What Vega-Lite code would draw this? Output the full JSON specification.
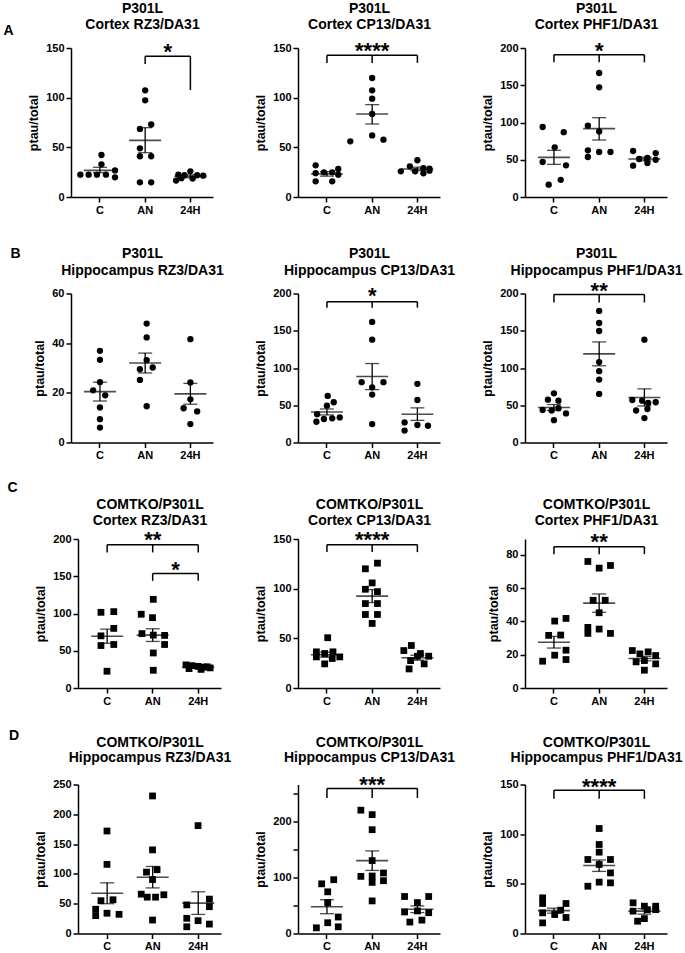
{
"$schema":"https://vega.github.io/schema/vega-lite/v6.json",
"autosize":{"type":"pad"},
"padding":{"left":2,"top":1,"right":2,"bottom":2},
"background":"white",
"config":{
 "font":"Liberation Sans",
 "view":{"stroke":null},
 "mark":{"color":"black"},
 "axis":{"domainColor":"black","domainWidth":1.5,"tickColor":"black","tickWidth":1.5,"tickSize":5,"labelFont":"Liberation Sans","labelFontSize":11,"labelFontWeight":"bold","labelColor":"black","labelPadding":2,"titleFont":"Liberation Sans","titleFontSize":12.5,"titleFontWeight":"bold","titleColor":"black","titlePadding":5,"grid":false},
 "axisTop":{"labels":false,"ticks":false,"domain":false,"titleFontSize":14,"titleLineHeight":16.7,"titlePadding":16,"titleLimit":400}
},
"datasets":{
"pts":[
{"p":"A1","g":"C","v":42.3,"j":0.2},{"p":"A1","g":"C","v":32.9,"j":0.2},{"p":"A1","g":"C","v":22.5,"j":-2.6},{"p":"A1","g":"C","v":22.5,"j":-1.5},{"p":"A1","g":"C","v":22.5,"j":-0.4},{"p":"A1","g":"C","v":22.5,"j":0.8},{"p":"A1","g":"C","v":26.8,"j":2},{"p":"A1","g":"C","v":19.8,"j":2},
{"p":"A1","g":"AN","v":107.4,"j":0},{"p":"A1","g":"AN","v":97.3,"j":0},{"p":"A1","g":"AN","v":73,"j":0.8},{"p":"A1","g":"AN","v":68.5,"j":-0.7},{"p":"A1","g":"AN","v":49,"j":-0.7},{"p":"A1","g":"AN","v":41,"j":-0.7},{"p":"A1","g":"AN","v":41,"j":0.8},{"p":"A1","g":"AN","v":14.8,"j":-0.7},{"p":"A1","g":"AN","v":14.8,"j":0.8},
{"p":"A1","g":"24H","v":25.8,"j":0},{"p":"A1","g":"24H","v":22.5,"j":-1.6},{"p":"A1","g":"24H","v":22,"j":-0.8},{"p":"A1","g":"24H","v":22,"j":0.9},{"p":"A1","g":"24H","v":21.5,"j":1.7},{"p":"A1","g":"24H","v":19,"j":-1.2},{"p":"A1","g":"24H","v":18.5,"j":0.3},{"p":"A1","g":"24H","v":16.5,"j":-1.9},
{"p":"A2","g":"C","v":31.9,"j":-1.5},{"p":"A2","g":"C","v":24,"j":-1.5},{"p":"A2","g":"C","v":15.8,"j":-1.5},{"p":"A2","g":"C","v":24.8,"j":-0.4},{"p":"A2","g":"C","v":24.8,"j":0.7},{"p":"A2","g":"C","v":15.8,"j":0.7},{"p":"A2","g":"C","v":28.2,"j":1.5},{"p":"A2","g":"C","v":22.5,"j":1.5},
{"p":"A2","g":"AN","v":119.8,"j":0},{"p":"A2","g":"AN","v":107.4,"j":0},{"p":"A2","g":"AN","v":99,"j":0},{"p":"A2","g":"AN","v":83.6,"j":0},{"p":"A2","g":"AN","v":62,"j":0},{"p":"A2","g":"AN","v":56,"j":-2.9},{"p":"A2","g":"AN","v":57.7,"j":1.5},
{"p":"A2","g":"24H","v":37,"j":0},{"p":"A2","g":"24H","v":30.9,"j":-1},{"p":"A2","g":"24H","v":25.8,"j":-2.2},{"p":"A2","g":"24H","v":25.8,"j":-0.3},{"p":"A2","g":"24H","v":29,"j":0.8},{"p":"A2","g":"24H","v":28.5,"j":1.6},{"p":"A2","g":"24H","v":23.8,"j":0.8},{"p":"A2","g":"24H","v":26.5,"j":1.6},
{"p":"A3","g":"C","v":94,"j":-1.5},{"p":"A3","g":"C","v":87,"j":1.3},{"p":"A3","g":"C","v":66.7,"j":0.1},{"p":"A3","g":"C","v":47,"j":-1.5},{"p":"A3","g":"C","v":42.5,"j":1.6},{"p":"A3","g":"C","v":23,"j":0.9},{"p":"A3","g":"C","v":16.5,"j":-0.7},
{"p":"A3","g":"AN","v":166.4,"j":0},{"p":"A3","g":"AN","v":147.2,"j":0},{"p":"A3","g":"AN","v":95.7,"j":-1.5},{"p":"A3","g":"AN","v":88,"j":0},{"p":"A3","g":"AN","v":62.6,"j":-1.5},{"p":"A3","g":"AN","v":53.7,"j":-1.5},{"p":"A3","g":"AN","v":60.4,"j":0},{"p":"A3","g":"AN","v":60.4,"j":1.5},
{"p":"A3","g":"24H","v":61.7,"j":-1.5},{"p":"A3","g":"24H","v":42,"j":-1.5},{"p":"A3","g":"24H","v":51,"j":-0.7},{"p":"A3","g":"24H","v":52.3,"j":0.4},{"p":"A3","g":"24H","v":45.6,"j":0.4},{"p":"A3","g":"24H","v":59,"j":1.5},{"p":"A3","g":"24H","v":50,"j":1.5},
{"p":"B1","g":"C","v":36.9,"j":0},{"p":"B1","g":"C","v":33.3,"j":0},{"p":"B1","g":"C","v":24.3,"j":0},{"p":"B1","g":"C","v":21,"j":-0.9},{"p":"B1","g":"C","v":19,"j":0.7},{"p":"B1","g":"C","v":14.1,"j":0},{"p":"B1","g":"C","v":9.4,"j":0},{"p":"B1","g":"C","v":6,"j":0},
{"p":"B1","g":"AN","v":47.9,"j":0.2},{"p":"B1","g":"AN","v":42.3,"j":0.2},{"p":"B1","g":"AN","v":33.2,"j":0.2},{"p":"B1","g":"AN","v":30.2,"j":1},{"p":"B1","g":"AN","v":29.5,"j":-0.7},{"p":"B1","g":"AN","v":25.2,"j":-0.7},{"p":"B1","g":"AN","v":14.6,"j":0.2},
{"p":"B1","g":"24H","v":41.6,"j":0},{"p":"B1","g":"24H","v":24.2,"j":0},{"p":"B1","g":"24H","v":17.4,"j":0},{"p":"B1","g":"24H","v":13.8,"j":-0.9},{"p":"B1","g":"24H","v":12.5,"j":0.9},{"p":"B1","g":"24H","v":7.4,"j":0},
{"p":"B2","g":"C","v":62.5,"j":0.1},{"p":"B2","g":"C","v":54,"j":0.9},{"p":"B2","g":"C","v":49.4,"j":0},{"p":"B2","g":"C","v":38,"j":-1.3},{"p":"B2","g":"C","v":33.7,"j":1.7},{"p":"B2","g":"C","v":32.4,"j":0.7},{"p":"B2","g":"C","v":31.5,"j":-0.4},{"p":"B2","g":"C","v":27.9,"j":-1.4},
{"p":"B2","g":"AN","v":161.8,"j":0},{"p":"B2","g":"AN","v":138,"j":0},{"p":"B2","g":"AN","v":81,"j":-1.4},{"p":"B2","g":"AN","v":81,"j":1.5},{"p":"B2","g":"AN","v":74,"j":0},{"p":"B2","g":"AN","v":64.3,"j":0},{"p":"B2","g":"AN","v":24.7,"j":0},
{"p":"B2","g":"24H","v":78.7,"j":0},{"p":"B2","g":"24H","v":57,"j":0},{"p":"B2","g":"24H","v":27,"j":-1.7},{"p":"B2","g":"24H","v":23.5,"j":0},{"p":"B2","g":"24H","v":22.5,"j":1.4},{"p":"B2","g":"24H","v":16,"j":-1.7},
{"p":"B3","g":"C","v":66,"j":0},{"p":"B3","g":"C","v":57.5,"j":-0.8},{"p":"B3","g":"C","v":56.2,"j":0.6},{"p":"B3","g":"C","v":46,"j":0.6},{"p":"B3","g":"C","v":43.6,"j":-1.5},{"p":"B3","g":"C","v":43,"j":-0.3},{"p":"B3","g":"C","v":39,"j":1.6},{"p":"B3","g":"C","v":30,"j":0},
{"p":"B3","g":"AN","v":176.6,"j":0},{"p":"B3","g":"AN","v":160.4,"j":0},{"p":"B3","g":"AN","v":149.7,"j":0},{"p":"B3","g":"AN","v":107.9,"j":0},{"p":"B3","g":"AN","v":95.7,"j":0},{"p":"B3","g":"AN","v":84.5,"j":0},{"p":"B3","g":"AN","v":65.2,"j":0},
{"p":"B3","g":"24H","v":138,"j":0},{"p":"B3","g":"24H","v":57,"j":-1.6},{"p":"B3","g":"24H","v":56.2,"j":-0.3},{"p":"B3","g":"24H","v":54,"j":1.5},{"p":"B3","g":"24H","v":53,"j":0.5},{"p":"B3","g":"24H","v":45,"j":0.4},{"p":"B3","g":"24H","v":43,"j":-1.1},{"p":"B3","g":"24H","v":32.8,"j":0},
{"p":"C1","g":"C","v":101.6,"j":-0.8},{"p":"C1","g":"C","v":102.5,"j":0.9},{"p":"C1","g":"C","v":80,"j":0.9},{"p":"C1","g":"C","v":70,"j":-0.8},{"p":"C1","g":"C","v":58.4,"j":0.9},{"p":"C1","g":"C","v":57,"j":-0.8},{"p":"C1","g":"C","v":22.5,"j":0},
{"p":"C1","g":"AN","v":119,"j":0.1},{"p":"C1","g":"AN","v":99,"j":-1.5},{"p":"C1","g":"AN","v":94.4,"j":0},{"p":"C1","g":"AN","v":73,"j":-1.4},{"p":"C1","g":"AN","v":71,"j":0.1},{"p":"C1","g":"AN","v":70.6,"j":1.6},{"p":"C1","g":"AN","v":58.4,"j":1.6},{"p":"C1","g":"AN","v":47,"j":0.1},{"p":"C1","g":"AN","v":23.8,"j":0.1},
{"p":"C1","g":"24H","v":31,"j":-1.6},{"p":"C1","g":"24H","v":30,"j":-0.8},{"p":"C1","g":"24H","v":29,"j":0},{"p":"C1","g":"24H","v":28,"j":0.8},{"p":"C1","g":"24H","v":27,"j":1.6},{"p":"C1","g":"24H","v":26,"j":-1.2},{"p":"C1","g":"24H","v":25,"j":0.4},{"p":"C1","g":"24H","v":28.5,"j":1.2},
{"p":"C2","g":"C","v":50.6,"j":0.1},{"p":"C2","g":"C","v":36.4,"j":-1.4},{"p":"C2","g":"C","v":34.7,"j":-0.3},{"p":"C2","g":"C","v":36.4,"j":0.8},{"p":"C2","g":"C","v":31.3,"j":-1.4},{"p":"C2","g":"C","v":24.3,"j":-0.3},{"p":"C2","g":"C","v":29.7,"j":0.7},{"p":"C2","g":"C","v":31.3,"j":1.7},
{"p":"C2","g":"AN","v":125.7,"j":0.7},{"p":"C2","g":"AN","v":120,"j":-0.9},{"p":"C2","g":"AN","v":105.8,"j":0},{"p":"C2","g":"AN","v":99.4,"j":-0.9},{"p":"C2","g":"AN","v":97,"j":0.7},{"p":"C2","g":"AN","v":85,"j":-0.9},{"p":"C2","g":"AN","v":85,"j":0.7},{"p":"C2","g":"AN","v":74,"j":-0.9},{"p":"C2","g":"AN","v":74,"j":0.7},{"p":"C2","g":"AN","v":65,"j":0},
{"p":"C2","g":"24H","v":42.8,"j":-0.8},{"p":"C2","g":"24H","v":37.7,"j":-1.8},{"p":"C2","g":"24H","v":34.7,"j":0.4},{"p":"C2","g":"24H","v":32,"j":0},{"p":"C2","g":"24H","v":32,"j":1.5},{"p":"C2","g":"24H","v":27.6,"j":-0.9},{"p":"C2","g":"24H","v":24.3,"j":0.9},{"p":"C2","g":"24H","v":19.2,"j":-1.1},
{"p":"C3","g":"C","v":40.2,"j":0.1},{"p":"C3","g":"C","v":41.8,"j":1.6},{"p":"C3","g":"C","v":31.6,"j":-0.7},{"p":"C3","g":"C","v":31.8,"j":0.9},{"p":"C3","g":"C","v":22.7,"j":1.6},{"p":"C3","g":"C","v":19.7,"j":0.1},{"p":"C3","g":"C","v":16.1,"j":-1.5},{"p":"C3","g":"C","v":17.1,"j":1.6},
{"p":"C3","g":"AN","v":76,"j":-1.5},{"p":"C3","g":"AN","v":72,"j":0},{"p":"C3","g":"AN","v":73.6,"j":1.5},{"p":"C3","g":"AN","v":52.7,"j":-0.8},{"p":"C3","g":"AN","v":52.7,"j":0.8},{"p":"C3","g":"AN","v":45.2,"j":0},{"p":"C3","g":"AN","v":36.4,"j":-1.5},{"p":"C3","g":"AN","v":32.8,"j":-1.5},{"p":"C3","g":"AN","v":35.4,"j":0},{"p":"C3","g":"AN","v":32.8,"j":1.5},
{"p":"C3","g":"24H","v":22.5,"j":-1.6},{"p":"C3","g":"24H","v":20.5,"j":-0.6},{"p":"C3","g":"24H","v":21.7,"j":0.5},{"p":"C3","g":"24H","v":19.5,"j":1.5},{"p":"C3","g":"24H","v":15.7,"j":-1.1},{"p":"C3","g":"24H","v":16.5,"j":0},{"p":"C3","g":"24H","v":14.5,"j":1.5},{"p":"C3","g":"24H","v":10.7,"j":0},
{"p":"D1","g":"C","v":172,"j":0},{"p":"D1","g":"C","v":116,"j":0},{"p":"D1","g":"C","v":55,"j":-0.8},{"p":"D1","g":"C","v":56.6,"j":0.8},{"p":"D1","g":"C","v":40.7,"j":-1.5},{"p":"D1","g":"C","v":30,"j":-1.5},{"p":"D1","g":"C","v":34,"j":0},{"p":"D1","g":"C","v":32.2,"j":1.6},
{"p":"D1","g":"AN","v":230.8,"j":0},{"p":"D1","g":"AN","v":140.3,"j":0},{"p":"D1","g":"AN","v":103,"j":-0.8},{"p":"D1","g":"AN","v":107,"j":0.6},{"p":"D1","g":"AN","v":90.5,"j":0},{"p":"D1","g":"AN","v":66,"j":-1.5},{"p":"D1","g":"AN","v":61,"j":-0.7},{"p":"D1","g":"AN","v":61,"j":0.4},{"p":"D1","g":"AN","v":65,"j":1.5},{"p":"D1","g":"AN","v":22.6,"j":0},
{"p":"D1","g":"24H","v":181,"j":0},{"p":"D1","g":"24H","v":48,"j":-1.5},{"p":"D1","g":"24H","v":57.7,"j":1.5},{"p":"D1","g":"24H","v":45,"j":1.5},{"p":"D1","g":"24H","v":25.5,"j":-1.5},{"p":"D1","g":"24H","v":21.5,"j":0},{"p":"D1","g":"24H","v":11.3,"j":-1.5},{"p":"D1","g":"24H","v":15.8,"j":1.5},
{"p":"D2","g":"C","v":89,"j":-0.7},{"p":"D2","g":"C","v":96.4,"j":0.9},{"p":"D2","g":"C","v":74.7,"j":0.1},{"p":"D2","g":"C","v":55.4,"j":0.1},{"p":"D2","g":"C","v":29.5,"j":1.5},{"p":"D2","g":"C","v":19.3,"j":0.1},{"p":"D2","g":"C","v":10.2,"j":-1.4},{"p":"D2","g":"C","v":12,"j":1.5},
{"p":"D2","g":"AN","v":221,"j":-1.5},{"p":"D2","g":"AN","v":213,"j":0},{"p":"D2","g":"AN","v":186,"j":0},{"p":"D2","g":"AN","v":130.7,"j":0},{"p":"D2","g":"AN","v":108.4,"j":1.5},{"p":"D2","g":"AN","v":102.4,"j":-1.5},{"p":"D2","g":"AN","v":103,"j":0},{"p":"D2","g":"AN","v":94.6,"j":1.5},{"p":"D2","g":"AN","v":91.6,"j":0},{"p":"D2","g":"AN","v":58.4,"j":0},
{"p":"D2","g":"24H","v":66.3,"j":-1.7},{"p":"D2","g":"24H","v":66.3,"j":1.5},{"p":"D2","g":"24H","v":55.4,"j":0},{"p":"D2","g":"24H","v":38.6,"j":-1.7},{"p":"D2","g":"24H","v":40.4,"j":0},{"p":"D2","g":"24H","v":37.3,"j":1.5},{"p":"D2","g":"24H","v":20.5,"j":-1},{"p":"D2","g":"24H","v":24,"j":0.6},
{"p":"D3","g":"C","v":35.9,"j":-1.5},{"p":"D3","g":"C","v":30.2,"j":-1.5},{"p":"D3","g":"C","v":30.2,"j":1.6},{"p":"D3","g":"C","v":23.5,"j":0.9},{"p":"D3","g":"C","v":20.8,"j":-1.5},{"p":"D3","g":"C","v":19.1,"j":0.1},{"p":"D3","g":"C","v":16.1,"j":1.6},{"p":"D3","g":"C","v":10.7,"j":-1.5},
{"p":"D3","g":"AN","v":105.7,"j":0},{"p":"D3","g":"AN","v":89.6,"j":0},{"p":"D3","g":"AN","v":81.9,"j":0},{"p":"D3","g":"AN","v":74.5,"j":-1.5},{"p":"D3","g":"AN","v":74.5,"j":1.5},{"p":"D3","g":"AN","v":69.5,"j":0},{"p":"D3","g":"AN","v":61,"j":1.5},{"p":"D3","g":"AN","v":47.6,"j":-1.5},{"p":"D3","g":"AN","v":51.7,"j":0},{"p":"D3","g":"AN","v":51,"j":1.5},
{"p":"D3","g":"24H","v":30.9,"j":-1.5},{"p":"D3","g":"24H","v":27.5,"j":0},{"p":"D3","g":"24H","v":27.5,"j":1.5},{"p":"D3","g":"24H","v":24,"j":0.4},{"p":"D3","g":"24H","v":24,"j":1.5},{"p":"D3","g":"24H","v":22.5,"j":-1.5},{"p":"D3","g":"24H","v":15,"j":0},{"p":"D3","g":"24H","v":12.4,"j":-0.9}
],
"st":[
{"p":"A1","g":"C","m":26.8,"lo":24.4,"hi":29.9},{"p":"A1","g":"AN","m":57,"lo":44.6,"hi":69.8},{"p":"A1","g":"24H","m":20.8,"lo":19.4,"hi":22.3},
{"p":"A2","g":"C","m":23.2,"lo":21,"hi":25.5},{"p":"A2","g":"AN","m":83.6,"lo":73.5,"hi":93},{"p":"A2","g":"24H","m":28.2,"lo":26.6,"hi":30},
{"p":"A3","g":"C","m":53.2,"lo":43.8,"hi":62.6},{"p":"A3","g":"AN","m":91.8,"lo":76.5,"hi":106.5},{"p":"A3","g":"24H","m":51,"lo":48.5,"hi":53.5},
{"p":"B1","g":"C","m":20.5,"lo":16.7,"hi":24.3},{"p":"B1","g":"AN","m":32,"lo":28,"hi":36},{"p":"B1","g":"24H","m":19.6,"lo":15.4,"hi":23.8},
{"p":"B2","g":"C","m":41,"lo":37,"hi":45},{"p":"B2","g":"AN","m":88.5,"lo":71,"hi":106},{"p":"B2","g":"24H","m":38,"lo":29.7,"hi":46.5},
{"p":"B3","g":"C","m":47,"lo":43,"hi":51},{"p":"B3","g":"AN","m":119,"lo":103,"hi":135},{"p":"B3","g":"24H","m":60.5,"lo":49,"hi":72},
{"p":"C1","g":"C","m":69.5,"lo":60,"hi":79},{"p":"C1","g":"AN","m":71,"lo":62.5,"hi":79.5},{"p":"C1","g":"24H","m":28,"lo":26.5,"hi":29.5},
{"p":"C2","g":"C","m":33.5,"lo":31,"hi":36},{"p":"C2","g":"AN","m":92.5,"lo":86,"hi":99},{"p":"C2","g":"24H","m":30.5,"lo":28,"hi":33},
{"p":"C3","g":"C","m":27.5,"lo":24,"hi":31},{"p":"C3","g":"AN","m":51,"lo":45.5,"hi":56.5},{"p":"C3","g":"24H","m":17.7,"lo":16.3,"hi":19},
{"p":"D1","g":"C","m":67.5,"lo":50,"hi":85},{"p":"D1","g":"AN","m":94.5,"lo":76.5,"hi":112.5},{"p":"D1","g":"24H","m":51,"lo":32,"hi":70},
{"p":"D2","g":"C","m":48,"lo":35.5,"hi":60.5},{"p":"D2","g":"AN","m":130.5,"lo":113,"hi":148},{"p":"D2","g":"24H","m":43.5,"lo":37.5,"hi":49.5},
{"p":"D3","g":"C","m":23,"lo":20.5,"hi":25.5},{"p":"D3","g":"AN","m":68.5,"lo":62.5,"hi":74},{"p":"D3","g":"24H","m":22.5,"lo":19.5,"hi":25}
],
"br":[
{"p":"A1","a":"AN","b":"24H","y":141.6},{"p":"A2","a":"C","b":"24H","y":142.6},{"p":"A3","a":"C","b":"24H","y":191},
{"p":"B2","a":"C","b":"24H","y":188.8},{"p":"B3","a":"C","b":"24H","y":198.7},
{"p":"C1","a":"C","b":"24H","y":192.4},{"p":"C1","a":"AN","b":"24H","y":153.7},{"p":"C2","a":"C","b":"24H","y":144.3},{"p":"C3","a":"C","b":"24H","y":84.8},
{"p":"D2","a":"C","b":"24H","y":260},{"p":"D3","a":"C","b":"24H","y":144.3}
],
"lg":[
{"p":"A1","g":"AN","y1":134,"y2":141.6},{"p":"A1","g":"24H","y1":107.7,"y2":141.6},
{"p":"A2","g":"C","y1":135,"y2":142.6},{"p":"A2","g":"AN","y1":135,"y2":142.6},{"p":"A2","g":"24H","y1":135,"y2":142.6},
{"p":"A3","g":"C","y1":180.8,"y2":191},{"p":"A3","g":"AN","y1":180.8,"y2":191},{"p":"A3","g":"24H","y1":180.8,"y2":191},
{"p":"B2","g":"C","y1":181,"y2":188.8},{"p":"B2","g":"AN","y1":181,"y2":188.8},{"p":"B2","g":"24H","y1":181,"y2":188.8},
{"p":"B3","g":"C","y1":188,"y2":198.7},{"p":"B3","g":"AN","y1":188,"y2":198.7},{"p":"B3","g":"24H","y1":188,"y2":198.7},
{"p":"C1","g":"C","y1":182,"y2":192.4},{"p":"C1","g":"AN","y1":182,"y2":192.4},{"p":"C1","g":"24H","y1":182,"y2":192.4},{"p":"C1","g":"AN","y1":143.8,"y2":153.7},{"p":"C1","g":"24H","y1":143.8,"y2":153.7},
{"p":"C2","g":"C","y1":136.8,"y2":144.3},{"p":"C2","g":"AN","y1":136.8,"y2":144.3},{"p":"C2","g":"24H","y1":136.8,"y2":144.3},
{"p":"C3","g":"C","y1":80.4,"y2":84.8},{"p":"C3","g":"AN","y1":80.4,"y2":84.8},{"p":"C3","g":"24H","y1":80.4,"y2":84.8},
{"p":"D2","g":"C","y1":243,"y2":260},{"p":"D2","g":"AN","y1":243,"y2":260},{"p":"D2","g":"24H","y1":243,"y2":260},
{"p":"D3","g":"C","y1":135.6,"y2":144.3},{"p":"D3","g":"AN","y1":135.6,"y2":144.3},{"p":"D3","g":"24H","y1":135.6,"y2":144.3}
],
"lb":[
{"p":"A2","g":"AN","y":153,"t":"****"},{"p":"A3","g":"AN","y":204,"t":"*"},{"p":"B2","g":"AN","y":204.5,"t":"*"},{"p":"B3","g":"AN","y":211,"t":"**"},
{"p":"C1","g":"AN","y":206.7,"t":"**"},{"p":"C2","g":"AN","y":155,"t":"****"},{"p":"C3","g":"AN","y":91.5,"t":"**"},{"p":"D2","g":"AN","y":276.5,"t":"***"},{"p":"D3","g":"AN","y":153.4,"t":"****"}
],
"lbg":[
{"p":"A1","g":"24H","y":151.7,"t":"*"},{"p":"C1","g":"24H","y":167,"t":"*"}
]
},
"columns":3,
"spacing":{"row":96.5,"column":85},
"bounds":"flush",
"concat":[
{"width":142,"height":149,"layer":[
 {"data":{"name":"pts"},"transform":[{"filter":"datum.p==='A1'"}],"mark":{"type":"point","shape":"circle","filled":true,"opacity":1,"size":40},"encoding":{"x":{"field":"g","type":"nominal","scale":{"domain":["C","AN","24H"],"paddingInner":0,"paddingOuter":0.07,"align":1},"axis":{"title":null,"labelAngle":0}},"xOffset":{"field":"j","type":"quantitative","scale":{"domain":[-3,3]}},"y":{"field":"v","type":"quantitative","scale":{"domain":[0,150],"nice":false},"axis":{"title":"ptau/total","values":[0,50,100,150]}}}},
 {"data":{"name":"st"},"transform":[{"filter":"datum.p==='A1'"}],"mark":{"type":"tick","size":32,"thickness":1.6},"encoding":{"x":{"field":"g","type":"nominal","axis":{"orient":"top","title":["P301L","Cortex RZ3/DA31"]}},"y":{"field":"m","type":"quantitative","axis":{"orient":"left","title":"A","titleAngle":0,"titleX":-63,"titleY":-14,"titleAlign":"center","titleBaseline":"alphabetic","titleFontSize":14,"labels":false,"ticks":false,"domain":false}}}},
 {"data":{"name":"st"},"transform":[{"filter":"datum.p==='A1'"}],"mark":{"type":"rule","strokeWidth":1.3},"encoding":{"x":{"field":"g","type":"nominal","axis":null},"y":{"field":"lo","type":"quantitative","axis":null},"y2":{"field":"hi"}}},
 {"data":{"name":"st"},"transform":[{"filter":"datum.p==='A1'"}],"mark":{"type":"tick","size":14,"thickness":1.3},"encoding":{"x":{"field":"g","type":"nominal","axis":null},"y":{"field":"lo","type":"quantitative","axis":null}}},
 {"data":{"name":"st"},"transform":[{"filter":"datum.p==='A1'"}],"mark":{"type":"tick","size":14,"thickness":1.3},"encoding":{"x":{"field":"g","type":"nominal","axis":null},"y":{"field":"hi","type":"quantitative","axis":null}}},
 {"data":{"name":"br"},"transform":[{"filter":"datum.p==='A1'"}],"mark":{"type":"rule","strokeWidth":1.5},"encoding":{"x":{"field":"a","type":"nominal","axis":null},"x2":{"field":"b"},"y":{"field":"y","type":"quantitative","axis":null}}},
 {"data":{"name":"lg"},"transform":[{"filter":"datum.p==='A1'"}],"mark":{"type":"rule","strokeWidth":1.5},"encoding":{"x":{"field":"g","type":"nominal","axis":null},"y":{"field":"y1","type":"quantitative","axis":null},"y2":{"field":"y2"}}},
 {"data":{"name":"lbg"},"transform":[{"filter":"datum.p==='A1'"}],"mark":{"type":"text","fontSize":22,"fontWeight":"bold","dy":6},"encoding":{"x":{"field":"g","type":"nominal","bandPosition":0,"axis":null},"y":{"field":"y","type":"quantitative","axis":null},"text":{"field":"t"}}}
],"resolve":{"axis":{"x":"independent","y":"independent"}}},
{"width":142,"height":149,"layer":[
 {"data":{"name":"pts"},"transform":[{"filter":"datum.p==='A2'"}],"mark":{"type":"point","shape":"circle","filled":true,"opacity":1,"size":40},"encoding":{"x":{"field":"g","type":"nominal","scale":{"domain":["C","AN","24H"],"paddingInner":0,"paddingOuter":0.07,"align":1},"axis":{"title":null,"labelAngle":0}},"xOffset":{"field":"j","type":"quantitative","scale":{"domain":[-3,3]}},"y":{"field":"v","type":"quantitative","scale":{"domain":[0,150],"nice":false},"axis":{"title":"ptau/total","values":[0,50,100,150]}}}},
 {"data":{"name":"st"},"transform":[{"filter":"datum.p==='A2'"}],"mark":{"type":"tick","size":32,"thickness":1.6},"encoding":{"x":{"field":"g","type":"nominal","axis":{"orient":"top","title":["P301L","Cortex CP13/DA31"]}},"y":{"field":"m","type":"quantitative","axis":null}}},
 {"data":{"name":"st"},"transform":[{"filter":"datum.p==='A2'"}],"mark":{"type":"rule","strokeWidth":1.3},"encoding":{"x":{"field":"g","type":"nominal","axis":null},"y":{"field":"lo","type":"quantitative","axis":null},"y2":{"field":"hi"}}},
 {"data":{"name":"st"},"transform":[{"filter":"datum.p==='A2'"}],"mark":{"type":"tick","size":14,"thickness":1.3},"encoding":{"x":{"field":"g","type":"nominal","axis":null},"y":{"field":"lo","type":"quantitative","axis":null}}},
 {"data":{"name":"st"},"transform":[{"filter":"datum.p==='A2'"}],"mark":{"type":"tick","size":14,"thickness":1.3},"encoding":{"x":{"field":"g","type":"nominal","axis":null},"y":{"field":"hi","type":"quantitative","axis":null}}},
 {"data":{"name":"br"},"transform":[{"filter":"datum.p==='A2'"}],"mark":{"type":"rule","strokeWidth":1.5},"encoding":{"x":{"field":"a","type":"nominal","axis":null},"x2":{"field":"b"},"y":{"field":"y","type":"quantitative","axis":null}}},
 {"data":{"name":"lg"},"transform":[{"filter":"datum.p==='A2'"}],"mark":{"type":"rule","strokeWidth":1.5},"encoding":{"x":{"field":"g","type":"nominal","axis":null},"y":{"field":"y1","type":"quantitative","axis":null},"y2":{"field":"y2"}}},
 {"data":{"name":"lb"},"transform":[{"filter":"datum.p==='A2'"}],"mark":{"type":"text","fontSize":22,"fontWeight":"bold","dy":6},"encoding":{"x":{"field":"g","type":"nominal","axis":null},"y":{"field":"y","type":"quantitative","axis":null},"text":{"field":"t"}}}
],"resolve":{"axis":{"x":"independent","y":"independent"}}},
{"width":142,"height":149,"layer":[
 {"data":{"name":"pts"},"transform":[{"filter":"datum.p==='A3'"}],"mark":{"type":"point","shape":"circle","filled":true,"opacity":1,"size":40},"encoding":{"x":{"field":"g","type":"nominal","scale":{"domain":["C","AN","24H"],"paddingInner":0,"paddingOuter":0.07,"align":1},"axis":{"title":null,"labelAngle":0}},"xOffset":{"field":"j","type":"quantitative","scale":{"domain":[-3,3]}},"y":{"field":"v","type":"quantitative","scale":{"domain":[0,200],"nice":false},"axis":{"title":"ptau/total","values":[0,50,100,150,200]}}}},
 {"data":{"name":"st"},"transform":[{"filter":"datum.p==='A3'"}],"mark":{"type":"tick","size":32,"thickness":1.6},"encoding":{"x":{"field":"g","type":"nominal","axis":{"orient":"top","title":["P301L","Cortex PHF1/DA31"]}},"y":{"field":"m","type":"quantitative","axis":null}}},
 {"data":{"name":"st"},"transform":[{"filter":"datum.p==='A3'"}],"mark":{"type":"rule","strokeWidth":1.3},"encoding":{"x":{"field":"g","type":"nominal","axis":null},"y":{"field":"lo","type":"quantitative","axis":null},"y2":{"field":"hi"}}},
 {"data":{"name":"st"},"transform":[{"filter":"datum.p==='A3'"}],"mark":{"type":"tick","size":14,"thickness":1.3},"encoding":{"x":{"field":"g","type":"nominal","axis":null},"y":{"field":"lo","type":"quantitative","axis":null}}},
 {"data":{"name":"st"},"transform":[{"filter":"datum.p==='A3'"}],"mark":{"type":"tick","size":14,"thickness":1.3},"encoding":{"x":{"field":"g","type":"nominal","axis":null},"y":{"field":"hi","type":"quantitative","axis":null}}},
 {"data":{"name":"br"},"transform":[{"filter":"datum.p==='A3'"}],"mark":{"type":"rule","strokeWidth":1.5},"encoding":{"x":{"field":"a","type":"nominal","axis":null},"x2":{"field":"b"},"y":{"field":"y","type":"quantitative","axis":null}}},
 {"data":{"name":"lg"},"transform":[{"filter":"datum.p==='A3'"}],"mark":{"type":"rule","strokeWidth":1.5},"encoding":{"x":{"field":"g","type":"nominal","axis":null},"y":{"field":"y1","type":"quantitative","axis":null},"y2":{"field":"y2"}}},
 {"data":{"name":"lb"},"transform":[{"filter":"datum.p==='A3'"}],"mark":{"type":"text","fontSize":22,"fontWeight":"bold","dy":6},"encoding":{"x":{"field":"g","type":"nominal","axis":null},"y":{"field":"y","type":"quantitative","axis":null},"text":{"field":"t"}}}
],"resolve":{"axis":{"x":"independent","y":"independent"}}},
{"width":142,"height":149,"layer":[
 {"data":{"name":"pts"},"transform":[{"filter":"datum.p==='B1'"}],"mark":{"type":"point","shape":"circle","filled":true,"opacity":1,"size":40},"encoding":{"x":{"field":"g","type":"nominal","scale":{"domain":["C","AN","24H"],"paddingInner":0,"paddingOuter":0.07,"align":1},"axis":{"title":null,"labelAngle":0}},"xOffset":{"field":"j","type":"quantitative","scale":{"domain":[-3,3]}},"y":{"field":"v","type":"quantitative","scale":{"domain":[0,60],"nice":false},"axis":{"title":"ptau/total","values":[0,20,40,60]}}}},
 {"data":{"name":"st"},"transform":[{"filter":"datum.p==='B1'"}],"mark":{"type":"tick","size":32,"thickness":1.6},"encoding":{"x":{"field":"g","type":"nominal","axis":{"orient":"top","title":["P301L","Hippocampus RZ3/DA31"],"titleLineHeight":17.5}},"y":{"field":"m","type":"quantitative","axis":{"orient":"left","title":"B","titleAngle":0,"titleX":-56,"titleY":-36,"titleAlign":"center","titleBaseline":"alphabetic","titleFontSize":14,"labels":false,"ticks":false,"domain":false}}}},
 {"data":{"name":"st"},"transform":[{"filter":"datum.p==='B1'"}],"mark":{"type":"rule","strokeWidth":1.3},"encoding":{"x":{"field":"g","type":"nominal","axis":null},"y":{"field":"lo","type":"quantitative","axis":null},"y2":{"field":"hi"}}},
 {"data":{"name":"st"},"transform":[{"filter":"datum.p==='B1'"}],"mark":{"type":"tick","size":14,"thickness":1.3},"encoding":{"x":{"field":"g","type":"nominal","axis":null},"y":{"field":"lo","type":"quantitative","axis":null}}},
 {"data":{"name":"st"},"transform":[{"filter":"datum.p==='B1'"}],"mark":{"type":"tick","size":14,"thickness":1.3},"encoding":{"x":{"field":"g","type":"nominal","axis":null},"y":{"field":"hi","type":"quantitative","axis":null}}}
],"resolve":{"axis":{"x":"independent","y":"independent"}}},
{"width":142,"height":149,"layer":[
 {"data":{"name":"pts"},"transform":[{"filter":"datum.p==='B2'"}],"mark":{"type":"point","shape":"circle","filled":true,"opacity":1,"size":40},"encoding":{"x":{"field":"g","type":"nominal","scale":{"domain":["C","AN","24H"],"paddingInner":0,"paddingOuter":0.07,"align":1},"axis":{"title":null,"labelAngle":0}},"xOffset":{"field":"j","type":"quantitative","scale":{"domain":[-3,3]}},"y":{"field":"v","type":"quantitative","scale":{"domain":[0,200],"nice":false},"axis":{"title":"ptau/total","values":[0,50,100,150,200]}}}},
 {"data":{"name":"st"},"transform":[{"filter":"datum.p==='B2'"}],"mark":{"type":"tick","size":32,"thickness":1.6},"encoding":{"x":{"field":"g","type":"nominal","axis":{"orient":"top","title":["P301L","Hippocampus CP13/DA31"],"titleLineHeight":17.5}},"y":{"field":"m","type":"quantitative","axis":null}}},
 {"data":{"name":"st"},"transform":[{"filter":"datum.p==='B2'"}],"mark":{"type":"rule","strokeWidth":1.3},"encoding":{"x":{"field":"g","type":"nominal","axis":null},"y":{"field":"lo","type":"quantitative","axis":null},"y2":{"field":"hi"}}},
 {"data":{"name":"st"},"transform":[{"filter":"datum.p==='B2'"}],"mark":{"type":"tick","size":14,"thickness":1.3},"encoding":{"x":{"field":"g","type":"nominal","axis":null},"y":{"field":"lo","type":"quantitative","axis":null}}},
 {"data":{"name":"st"},"transform":[{"filter":"datum.p==='B2'"}],"mark":{"type":"tick","size":14,"thickness":1.3},"encoding":{"x":{"field":"g","type":"nominal","axis":null},"y":{"field":"hi","type":"quantitative","axis":null}}},
 {"data":{"name":"br"},"transform":[{"filter":"datum.p==='B2'"}],"mark":{"type":"rule","strokeWidth":1.5},"encoding":{"x":{"field":"a","type":"nominal","axis":null},"x2":{"field":"b"},"y":{"field":"y","type":"quantitative","axis":null}}},
 {"data":{"name":"lg"},"transform":[{"filter":"datum.p==='B2'"}],"mark":{"type":"rule","strokeWidth":1.5},"encoding":{"x":{"field":"g","type":"nominal","axis":null},"y":{"field":"y1","type":"quantitative","axis":null},"y2":{"field":"y2"}}},
 {"data":{"name":"lb"},"transform":[{"filter":"datum.p==='B2'"}],"mark":{"type":"text","fontSize":22,"fontWeight":"bold","dy":6},"encoding":{"x":{"field":"g","type":"nominal","axis":null},"y":{"field":"y","type":"quantitative","axis":null},"text":{"field":"t"}}}
],"resolve":{"axis":{"x":"independent","y":"independent"}}},
{"width":142,"height":149,"layer":[
 {"data":{"name":"pts"},"transform":[{"filter":"datum.p==='B3'"}],"mark":{"type":"point","shape":"circle","filled":true,"opacity":1,"size":40},"encoding":{"x":{"field":"g","type":"nominal","scale":{"domain":["C","AN","24H"],"paddingInner":0,"paddingOuter":0.07,"align":1},"axis":{"title":null,"labelAngle":0}},"xOffset":{"field":"j","type":"quantitative","scale":{"domain":[-3,3]}},"y":{"field":"v","type":"quantitative","scale":{"domain":[0,200],"nice":false},"axis":{"title":"ptau/total","values":[0,50,100,150,200]}}}},
 {"data":{"name":"st"},"transform":[{"filter":"datum.p==='B3'"}],"mark":{"type":"tick","size":32,"thickness":1.6},"encoding":{"x":{"field":"g","type":"nominal","axis":{"orient":"top","title":["P301L","Hippocampus PHF1/DA31"],"titleLineHeight":17.5}},"y":{"field":"m","type":"quantitative","axis":null}}},
 {"data":{"name":"st"},"transform":[{"filter":"datum.p==='B3'"}],"mark":{"type":"rule","strokeWidth":1.3},"encoding":{"x":{"field":"g","type":"nominal","axis":null},"y":{"field":"lo","type":"quantitative","axis":null},"y2":{"field":"hi"}}},
 {"data":{"name":"st"},"transform":[{"filter":"datum.p==='B3'"}],"mark":{"type":"tick","size":14,"thickness":1.3},"encoding":{"x":{"field":"g","type":"nominal","axis":null},"y":{"field":"lo","type":"quantitative","axis":null}}},
 {"data":{"name":"st"},"transform":[{"filter":"datum.p==='B3'"}],"mark":{"type":"tick","size":14,"thickness":1.3},"encoding":{"x":{"field":"g","type":"nominal","axis":null},"y":{"field":"hi","type":"quantitative","axis":null}}},
 {"data":{"name":"br"},"transform":[{"filter":"datum.p==='B3'"}],"mark":{"type":"rule","strokeWidth":1.5},"encoding":{"x":{"field":"a","type":"nominal","axis":null},"x2":{"field":"b"},"y":{"field":"y","type":"quantitative","axis":null}}},
 {"data":{"name":"lg"},"transform":[{"filter":"datum.p==='B3'"}],"mark":{"type":"rule","strokeWidth":1.5},"encoding":{"x":{"field":"g","type":"nominal","axis":null},"y":{"field":"y1","type":"quantitative","axis":null},"y2":{"field":"y2"}}},
 {"data":{"name":"lb"},"transform":[{"filter":"datum.p==='B3'"}],"mark":{"type":"text","fontSize":22,"fontWeight":"bold","dy":6},"encoding":{"x":{"field":"g","type":"nominal","axis":null},"y":{"field":"y","type":"quantitative","axis":null},"text":{"field":"t"}}}
],"resolve":{"axis":{"x":"independent","y":"independent"}}},
{"width":142,"height":149,"layer":[
 {"data":{"name":"pts"},"transform":[{"filter":"datum.p==='C1'"}],"mark":{"type":"point","shape":"square","filled":true,"opacity":1,"size":46},"encoding":{"x":{"field":"g","type":"nominal","scale":{"domain":["C","AN","24H"],"range":[7,150],"paddingInner":0,"paddingOuter":0.07,"align":1},"axis":{"title":null,"labelAngle":0}},"xOffset":{"field":"j","type":"quantitative","scale":{"domain":[-3,3]}},"y":{"field":"v","type":"quantitative","scale":{"domain":[0,200],"nice":false},"axis":{"title":"ptau/total","values":[0,50,100,150,200],"offset":-7}}}},
 {"data":{"name":"st"},"transform":[{"filter":"datum.p==='C1'"}],"mark":{"type":"tick","size":32,"thickness":1.6},"encoding":{"x":{"field":"g","type":"nominal","axis":{"orient":"top","title":["COMTKO/P301L","Cortex RZ3/DA31"],"titleLineHeight":15.5,"titlePadding":12}},"y":{"field":"m","type":"quantitative","axis":{"orient":"left","title":"C","titleAngle":0,"titleX":-59,"titleY":-48,"titleAlign":"center","titleBaseline":"alphabetic","titleFontSize":14,"labels":false,"ticks":false,"domain":false}}}},
 {"data":{"name":"st"},"transform":[{"filter":"datum.p==='C1'"}],"mark":{"type":"rule","strokeWidth":1.3},"encoding":{"x":{"field":"g","type":"nominal","axis":null},"y":{"field":"lo","type":"quantitative","axis":null},"y2":{"field":"hi"}}},
 {"data":{"name":"st"},"transform":[{"filter":"datum.p==='C1'"}],"mark":{"type":"tick","size":14,"thickness":1.3},"encoding":{"x":{"field":"g","type":"nominal","axis":null},"y":{"field":"lo","type":"quantitative","axis":null}}},
 {"data":{"name":"st"},"transform":[{"filter":"datum.p==='C1'"}],"mark":{"type":"tick","size":14,"thickness":1.3},"encoding":{"x":{"field":"g","type":"nominal","axis":null},"y":{"field":"hi","type":"quantitative","axis":null}}},
 {"data":{"name":"br"},"transform":[{"filter":"datum.p==='C1'"}],"mark":{"type":"rule","strokeWidth":1.5},"encoding":{"x":{"field":"a","type":"nominal","axis":null},"x2":{"field":"b"},"y":{"field":"y","type":"quantitative","axis":null}}},
 {"data":{"name":"lg"},"transform":[{"filter":"datum.p==='C1'"}],"mark":{"type":"rule","strokeWidth":1.5},"encoding":{"x":{"field":"g","type":"nominal","axis":null},"y":{"field":"y1","type":"quantitative","axis":null},"y2":{"field":"y2"}}},
 {"data":{"name":"lb"},"transform":[{"filter":"datum.p==='C1'"}],"mark":{"type":"text","fontSize":22,"fontWeight":"bold","dy":6},"encoding":{"x":{"field":"g","type":"nominal","axis":null},"y":{"field":"y","type":"quantitative","axis":null},"text":{"field":"t"}}},
 {"data":{"name":"lbg"},"transform":[{"filter":"datum.p==='C1'"}],"mark":{"type":"text","fontSize":22,"fontWeight":"bold","dy":6},"encoding":{"x":{"field":"g","type":"nominal","bandPosition":0,"axis":null},"y":{"field":"y","type":"quantitative","axis":null},"text":{"field":"t"}}}
],"resolve":{"axis":{"x":"independent","y":"independent"}}},
{"width":142,"height":149,"layer":[
 {"data":{"name":"pts"},"transform":[{"filter":"datum.p==='C2'"}],"mark":{"type":"point","shape":"square","filled":true,"opacity":1,"size":46},"encoding":{"x":{"field":"g","type":"nominal","scale":{"domain":["C","AN","24H"],"paddingInner":0,"paddingOuter":0.07,"align":1},"axis":{"title":null,"labelAngle":0}},"xOffset":{"field":"j","type":"quantitative","scale":{"domain":[-3,3]}},"y":{"field":"v","type":"quantitative","scale":{"domain":[0,150],"nice":false},"axis":{"title":"ptau/total","values":[0,50,100,150]}}}},
 {"data":{"name":"st"},"transform":[{"filter":"datum.p==='C2'"}],"mark":{"type":"tick","size":32,"thickness":1.6},"encoding":{"x":{"field":"g","type":"nominal","axis":{"orient":"top","title":["COMTKO/P301L","Cortex CP13/DA31"],"titleLineHeight":15.5,"titlePadding":12}},"y":{"field":"m","type":"quantitative","axis":null}}},
 {"data":{"name":"st"},"transform":[{"filter":"datum.p==='C2'"}],"mark":{"type":"rule","strokeWidth":1.3},"encoding":{"x":{"field":"g","type":"nominal","axis":null},"y":{"field":"lo","type":"quantitative","axis":null},"y2":{"field":"hi"}}},
 {"data":{"name":"st"},"transform":[{"filter":"datum.p==='C2'"}],"mark":{"type":"tick","size":14,"thickness":1.3},"encoding":{"x":{"field":"g","type":"nominal","axis":null},"y":{"field":"lo","type":"quantitative","axis":null}}},
 {"data":{"name":"st"},"transform":[{"filter":"datum.p==='C2'"}],"mark":{"type":"tick","size":14,"thickness":1.3},"encoding":{"x":{"field":"g","type":"nominal","axis":null},"y":{"field":"hi","type":"quantitative","axis":null}}},
 {"data":{"name":"br"},"transform":[{"filter":"datum.p==='C2'"}],"mark":{"type":"rule","strokeWidth":1.5},"encoding":{"x":{"field":"a","type":"nominal","axis":null},"x2":{"field":"b"},"y":{"field":"y","type":"quantitative","axis":null}}},
 {"data":{"name":"lg"},"transform":[{"filter":"datum.p==='C2'"}],"mark":{"type":"rule","strokeWidth":1.5},"encoding":{"x":{"field":"g","type":"nominal","axis":null},"y":{"field":"y1","type":"quantitative","axis":null},"y2":{"field":"y2"}}},
 {"data":{"name":"lb"},"transform":[{"filter":"datum.p==='C2'"}],"mark":{"type":"text","fontSize":22,"fontWeight":"bold","dy":6},"encoding":{"x":{"field":"g","type":"nominal","axis":null},"y":{"field":"y","type":"quantitative","axis":null},"text":{"field":"t"}}}
],"resolve":{"axis":{"x":"independent","y":"independent"}}},
{"width":142,"height":149,"layer":[
 {"data":{"name":"pts"},"transform":[{"filter":"datum.p==='C3'"}],"mark":{"type":"point","shape":"square","filled":true,"opacity":1,"size":46},"encoding":{"x":{"field":"g","type":"nominal","scale":{"domain":["C","AN","24H"],"paddingInner":0,"paddingOuter":0.07,"align":1},"axis":{"title":null,"labelAngle":0}},"xOffset":{"field":"j","type":"quantitative","scale":{"domain":[-3,3]}},"y":{"field":"v","type":"quantitative","scale":{"domain":[0,89.5],"nice":false},"axis":{"title":"ptau/total","values":[0,20,40,60,80]}}}},
 {"data":{"name":"st"},"transform":[{"filter":"datum.p==='C3'"}],"mark":{"type":"tick","size":32,"thickness":1.6},"encoding":{"x":{"field":"g","type":"nominal","axis":{"orient":"top","title":["COMTKO/P301L","Cortex PHF1/DA31"],"titleLineHeight":15.5,"titlePadding":12}},"y":{"field":"m","type":"quantitative","axis":null}}},
 {"data":{"name":"st"},"transform":[{"filter":"datum.p==='C3'"}],"mark":{"type":"rule","strokeWidth":1.3},"encoding":{"x":{"field":"g","type":"nominal","axis":null},"y":{"field":"lo","type":"quantitative","axis":null},"y2":{"field":"hi"}}},
 {"data":{"name":"st"},"transform":[{"filter":"datum.p==='C3'"}],"mark":{"type":"tick","size":14,"thickness":1.3},"encoding":{"x":{"field":"g","type":"nominal","axis":null},"y":{"field":"lo","type":"quantitative","axis":null}}},
 {"data":{"name":"st"},"transform":[{"filter":"datum.p==='C3'"}],"mark":{"type":"tick","size":14,"thickness":1.3},"encoding":{"x":{"field":"g","type":"nominal","axis":null},"y":{"field":"hi","type":"quantitative","axis":null}}},
 {"data":{"name":"br"},"transform":[{"filter":"datum.p==='C3'"}],"mark":{"type":"rule","strokeWidth":1.5},"encoding":{"x":{"field":"a","type":"nominal","axis":null},"x2":{"field":"b"},"y":{"field":"y","type":"quantitative","axis":null}}},
 {"data":{"name":"lg"},"transform":[{"filter":"datum.p==='C3'"}],"mark":{"type":"rule","strokeWidth":1.5},"encoding":{"x":{"field":"g","type":"nominal","axis":null},"y":{"field":"y1","type":"quantitative","axis":null},"y2":{"field":"y2"}}},
 {"data":{"name":"lb"},"transform":[{"filter":"datum.p==='C3'"}],"mark":{"type":"text","fontSize":22,"fontWeight":"bold","dy":6},"encoding":{"x":{"field":"g","type":"nominal","axis":null},"y":{"field":"y","type":"quantitative","axis":null},"text":{"field":"t"}}}
],"resolve":{"axis":{"x":"independent","y":"independent"}}},
{"width":142,"height":149,"layer":[
 {"data":{"name":"pts"},"transform":[{"filter":"datum.p==='D1'"}],"mark":{"type":"point","shape":"square","filled":true,"opacity":1,"size":46},"encoding":{"x":{"field":"g","type":"nominal","scale":{"domain":["C","AN","24H"],"range":[7,150],"paddingInner":0,"paddingOuter":0.07,"align":1},"axis":{"title":null,"labelAngle":0}},"xOffset":{"field":"j","type":"quantitative","scale":{"domain":[-3,3]}},"y":{"field":"v","type":"quantitative","scale":{"domain":[0,250],"nice":false},"axis":{"title":"ptau/total","values":[0,50,100,150,200,250],"offset":-7}}}},
 {"data":{"name":"st"},"transform":[{"filter":"datum.p==='D1'"}],"mark":{"type":"tick","size":32,"thickness":1.6},"encoding":{"x":{"field":"g","type":"nominal","axis":{"orient":"top","title":["COMTKO/P301L","Hippocampus RZ3/DA31"],"titleLineHeight":15.5,"titlePadding":20}},"y":{"field":"m","type":"quantitative","axis":{"orient":"left","title":"D","titleAngle":0,"titleX":-57.5,"titleY":-45,"titleAlign":"center","titleBaseline":"alphabetic","titleFontSize":14,"labels":false,"ticks":false,"domain":false}}}},
 {"data":{"name":"st"},"transform":[{"filter":"datum.p==='D1'"}],"mark":{"type":"rule","strokeWidth":1.3},"encoding":{"x":{"field":"g","type":"nominal","axis":null},"y":{"field":"lo","type":"quantitative","axis":null},"y2":{"field":"hi"}}},
 {"data":{"name":"st"},"transform":[{"filter":"datum.p==='D1'"}],"mark":{"type":"tick","size":14,"thickness":1.3},"encoding":{"x":{"field":"g","type":"nominal","axis":null},"y":{"field":"lo","type":"quantitative","axis":null}}},
 {"data":{"name":"st"},"transform":[{"filter":"datum.p==='D1'"}],"mark":{"type":"tick","size":14,"thickness":1.3},"encoding":{"x":{"field":"g","type":"nominal","axis":null},"y":{"field":"hi","type":"quantitative","axis":null}}}
],"resolve":{"axis":{"x":"independent","y":"independent"}}},
{"width":142,"height":149,"layer":[
 {"data":{"name":"pts"},"transform":[{"filter":"datum.p==='D2'"}],"mark":{"type":"point","shape":"square","filled":true,"opacity":1,"size":46},"encoding":{"x":{"field":"g","type":"nominal","scale":{"domain":["C","AN","24H"],"paddingInner":0,"paddingOuter":0.07,"align":1},"axis":{"title":null,"labelAngle":0}},"xOffset":{"field":"j","type":"quantitative","scale":{"domain":[-3,3]}},"y":{"field":"v","type":"quantitative","scale":{"domain":[0,267],"nice":false},"axis":{"title":"ptau/total","values":[0,50,100,150,200,250],"labelExpr":"datum.value % 100 === 0 ? datum.label : ''"}}}},
 {"data":{"name":"st"},"transform":[{"filter":"datum.p==='D2'"}],"mark":{"type":"tick","size":32,"thickness":1.6},"encoding":{"x":{"field":"g","type":"nominal","axis":{"orient":"top","title":["COMTKO/P301L","Hippocampus CP13/DA31"],"titleLineHeight":15.5,"titlePadding":20}},"y":{"field":"m","type":"quantitative","axis":null}}},
 {"data":{"name":"st"},"transform":[{"filter":"datum.p==='D2'"}],"mark":{"type":"rule","strokeWidth":1.3},"encoding":{"x":{"field":"g","type":"nominal","axis":null},"y":{"field":"lo","type":"quantitative","axis":null},"y2":{"field":"hi"}}},
 {"data":{"name":"st"},"transform":[{"filter":"datum.p==='D2'"}],"mark":{"type":"tick","size":14,"thickness":1.3},"encoding":{"x":{"field":"g","type":"nominal","axis":null},"y":{"field":"lo","type":"quantitative","axis":null}}},
 {"data":{"name":"st"},"transform":[{"filter":"datum.p==='D2'"}],"mark":{"type":"tick","size":14,"thickness":1.3},"encoding":{"x":{"field":"g","type":"nominal","axis":null},"y":{"field":"hi","type":"quantitative","axis":null}}},
 {"data":{"name":"br"},"transform":[{"filter":"datum.p==='D2'"}],"mark":{"type":"rule","strokeWidth":1.5},"encoding":{"x":{"field":"a","type":"nominal","axis":null},"x2":{"field":"b"},"y":{"field":"y","type":"quantitative","axis":null}}},
 {"data":{"name":"lg"},"transform":[{"filter":"datum.p==='D2'"}],"mark":{"type":"rule","strokeWidth":1.5},"encoding":{"x":{"field":"g","type":"nominal","axis":null},"y":{"field":"y1","type":"quantitative","axis":null},"y2":{"field":"y2"}}},
 {"data":{"name":"lb"},"transform":[{"filter":"datum.p==='D2'"}],"mark":{"type":"text","fontSize":22,"fontWeight":"bold","dy":6},"encoding":{"x":{"field":"g","type":"nominal","axis":null},"y":{"field":"y","type":"quantitative","axis":null},"text":{"field":"t"}}}
],"resolve":{"axis":{"x":"independent","y":"independent"}}},
{"width":142,"height":149,"layer":[
 {"data":{"name":"pts"},"transform":[{"filter":"datum.p==='D3'"}],"mark":{"type":"point","shape":"square","filled":true,"opacity":1,"size":46},"encoding":{"x":{"field":"g","type":"nominal","scale":{"domain":["C","AN","24H"],"paddingInner":0,"paddingOuter":0.07,"align":1},"axis":{"title":null,"labelAngle":0}},"xOffset":{"field":"j","type":"quantitative","scale":{"domain":[-3,3]}},"y":{"field":"v","type":"quantitative","scale":{"domain":[0,150],"nice":false},"axis":{"title":"ptau/total","values":[0,50,100,150]}}}},
 {"data":{"name":"st"},"transform":[{"filter":"datum.p==='D3'"}],"mark":{"type":"tick","size":32,"thickness":1.6},"encoding":{"x":{"field":"g","type":"nominal","axis":{"orient":"top","title":["COMTKO/P301L","Hippocampus PHF1/DA31"],"titleLineHeight":15.5,"titlePadding":20}},"y":{"field":"m","type":"quantitative","axis":null}}},
 {"data":{"name":"st"},"transform":[{"filter":"datum.p==='D3'"}],"mark":{"type":"rule","strokeWidth":1.3},"encoding":{"x":{"field":"g","type":"nominal","axis":null},"y":{"field":"lo","type":"quantitative","axis":null},"y2":{"field":"hi"}}},
 {"data":{"name":"st"},"transform":[{"filter":"datum.p==='D3'"}],"mark":{"type":"tick","size":14,"thickness":1.3},"encoding":{"x":{"field":"g","type":"nominal","axis":null},"y":{"field":"lo","type":"quantitative","axis":null}}},
 {"data":{"name":"st"},"transform":[{"filter":"datum.p==='D3'"}],"mark":{"type":"tick","size":14,"thickness":1.3},"encoding":{"x":{"field":"g","type":"nominal","axis":null},"y":{"field":"hi","type":"quantitative","axis":null}}},
 {"data":{"name":"br"},"transform":[{"filter":"datum.p==='D3'"}],"mark":{"type":"rule","strokeWidth":1.5},"encoding":{"x":{"field":"a","type":"nominal","axis":null},"x2":{"field":"b"},"y":{"field":"y","type":"quantitative","axis":null}}},
 {"data":{"name":"lg"},"transform":[{"filter":"datum.p==='D3'"}],"mark":{"type":"rule","strokeWidth":1.5},"encoding":{"x":{"field":"g","type":"nominal","axis":null},"y":{"field":"y1","type":"quantitative","axis":null},"y2":{"field":"y2"}}},
 {"data":{"name":"lb"},"transform":[{"filter":"datum.p==='D3'"}],"mark":{"type":"text","fontSize":22,"fontWeight":"bold","dy":6},"encoding":{"x":{"field":"g","type":"nominal","axis":null},"y":{"field":"y","type":"quantitative","axis":null},"text":{"field":"t"}}}
],"resolve":{"axis":{"x":"independent","y":"independent"}}}
]
}
